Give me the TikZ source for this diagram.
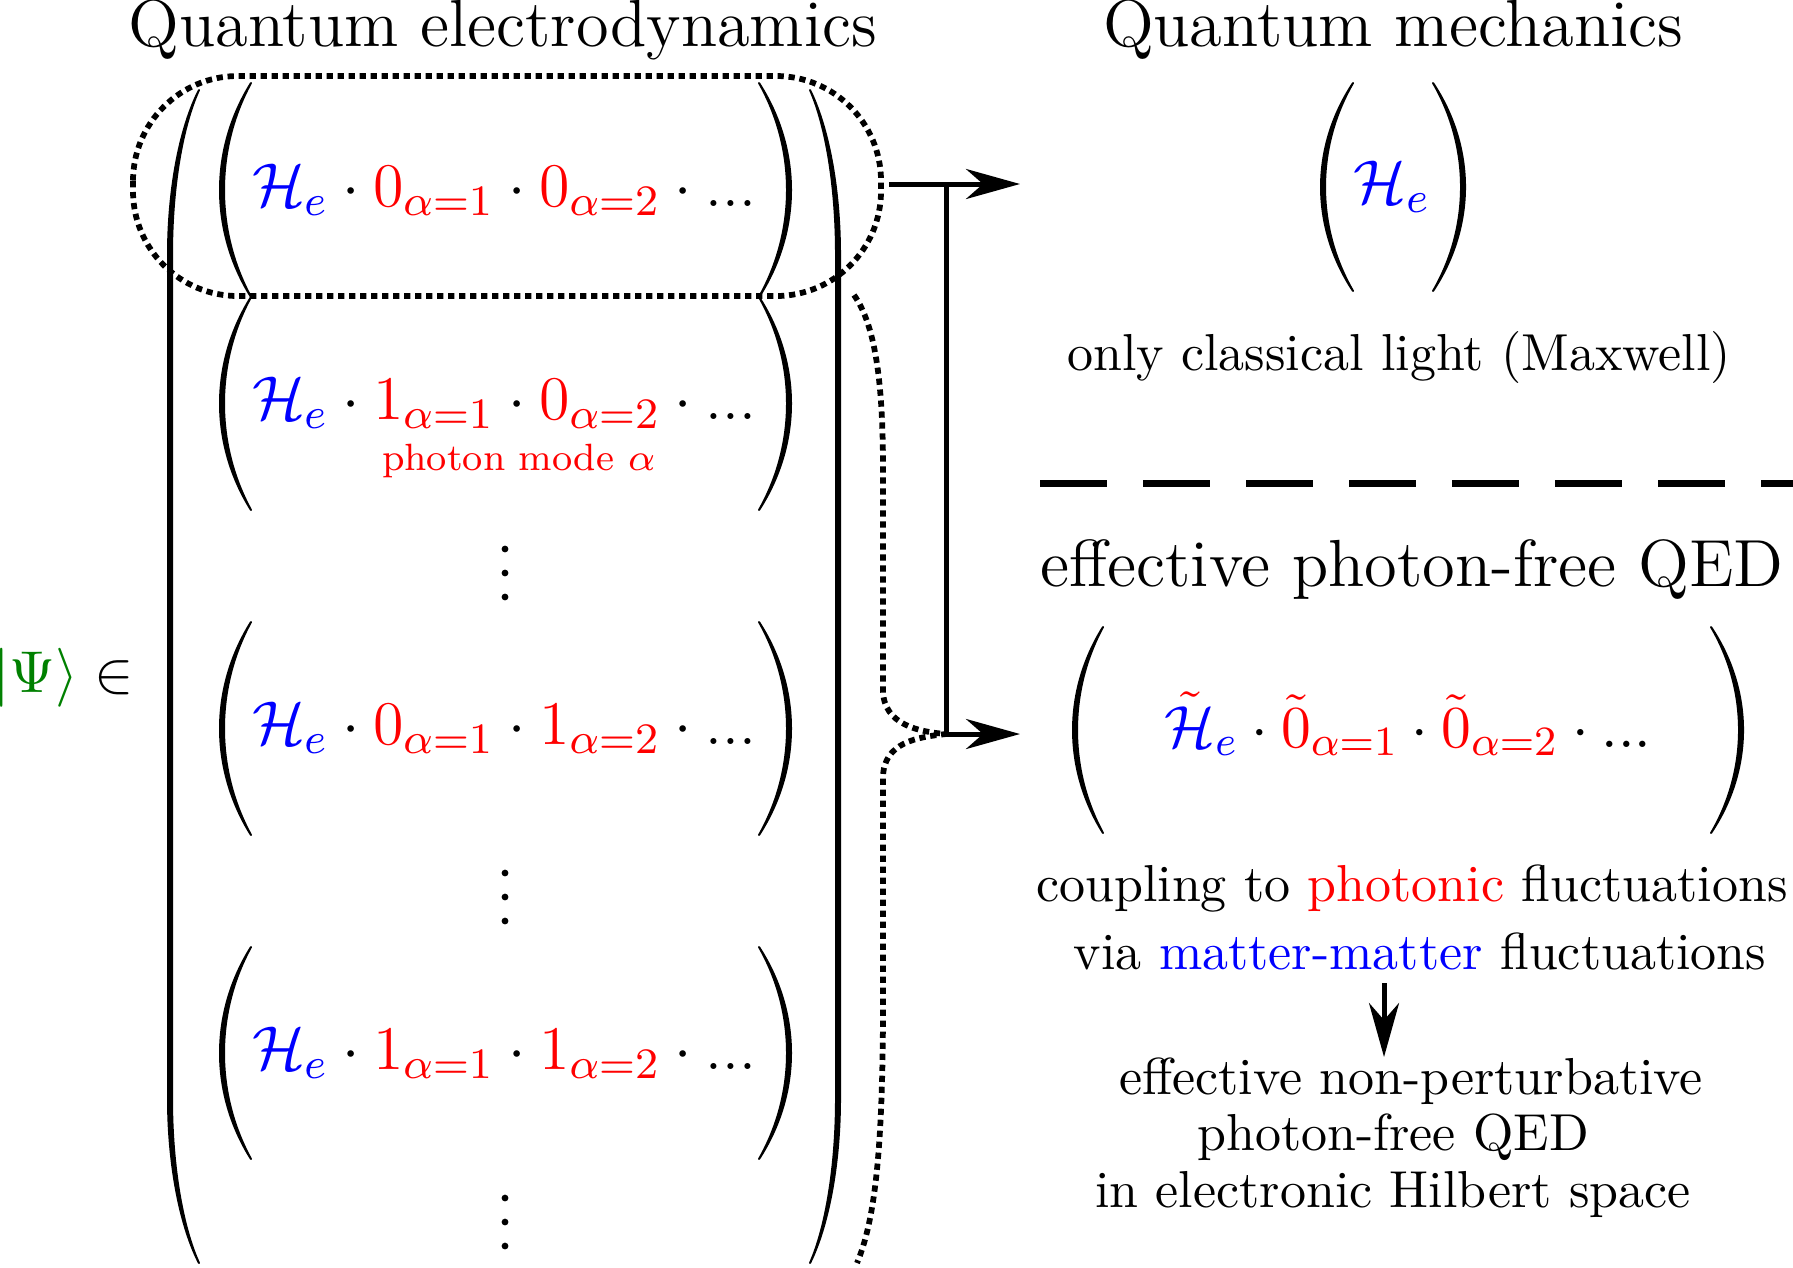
\RequirePackage{fix-cm}
\documentclass[tikz,border=0pt]{standalone}
\usepackage{graphicx}
\usetikzlibrary{arrows.meta}
\definecolor{qgreen}{RGB}{0,128,0}
\definecolor{qblue}{RGB}{0,0,255}
\definecolor{qred}{RGB}{255,0,0}
\newcommand\fTitle{\fontsize{12}{14}\selectfont}
\newcommand\fMath{\fontsize{12.4}{14}\selectfont}
\newcommand\fMathB{\fontsize{11.9}{14}\selectfont}
\newcommand\fBody{\fontsize{10.4}{11.4}\selectfont}
\newcommand\fSmall{\fontsize{7.6}{9}\selectfont}
\newcommand\fPsi{\fontsize{11.8}{14}\selectfont}
\newcommand\He{{\color{qblue}\mathcal{H}_e}}
\tikzset{
  txt/.style={inner sep=0pt, outer sep=0pt},
  parstyle/.style={fill=black, draw=black, line width=0.4pt, line join=round},
  dotsty/.style={line width=1.15pt, dash pattern=on 1.25pt off 0.95pt},
  arr/.style={line width=1pt, -{Stealth[length=10.8pt, width=6pt, inset=3.4pt]}},
  dashline/.style={line width=1.4pt, dash pattern=on 13.4pt off 7.2pt}
}
% small curved parenthesis: #1 end x, #2 top y, #3 bottom y, #4 signed bulge
\newcommand\ParenShape[4]{%
  \pgfmathsetmacro\pA{0.31*((#3)-(#2))}%
  \pgfmathsetmacro\pO{(#1)+1.333*((#4)+2*sign(#4))}%
  \pgfmathsetmacro\pI{(#1)+1.333*((#4)-2*sign(#4))}%
  \filldraw[parstyle] (#1,#2) .. controls ({\pO},{(#2)+\pA}) and ({\pO},{(#3)-\pA}) .. (#1,#3)
     .. controls ({\pI},{(#3)-\pA}) and ({\pI},{(#2)+\pA}) .. (#1,#2) -- cycle;}
% tall extensible parenthesis: #1 end x, #2 vertical x, #3 top y, #4 bottom y
\newcommand\TallParen[4]{%
  \pgfmathsetmacro\tpW{2*sign((#2)-(#1))}%
  \pgfmathsetmacro\tpOa{(#1)+0.586*((#2)-(#1))+0.5*\tpW}%
  \pgfmathsetmacro\tpIa{(#1)+0.586*((#2)-(#1))-0.5*\tpW}%
  \pgfmathsetmacro\tpO{(#2)+\tpW}%
  \pgfmathsetmacro\tpI{(#2)-\tpW}%
  \filldraw[parstyle] (#1,#3) .. controls ({\tpOa},{(#3)+35}) and ({\tpO},{(#3)+95}) .. ({\tpO},{(#3)+165})
    -- ({\tpO},{(#4)-165}) .. controls ({\tpO},{(#4)-95}) and ({\tpOa},{(#4)-35}) .. (#1,#4)
    .. controls ({\tpIa},{(#4)-35}) and ({\tpI},{(#4)-95}) .. ({\tpI},{(#4)-165})
    -- ({\tpI},{(#3)+165}) .. controls ({\tpI},{(#3)+95}) and ({\tpIa},{(#3)+35}) .. (#1,#3) -- cycle;}
\begin{document}
\begin{tikzpicture}[x=0.2pt,y=-0.2pt]
\useasboundingbox (0,0) rectangle (1793,1267);

% titles
\node[txt, anchor=base] (tQED) at (503,46) {\resizebox{149.6pt}{!}{\fTitle Quantum electrodynamics}};
\node[txt, anchor=base] (tQM) at (1393,46) {\resizebox{116pt}{!}{\fTitle Quantum mechanics}};

% state
\node[txt, anchor=base west] (psi) at (-6.7,692) {\fPsi ${\color{qgreen}|\Psi\rangle}\in$};

% outer tall parentheses
\TallParen{199}{170}{90}{1263}
\TallParen{810}{838}{90}{1263}

% rows
\ParenShape{251}{83}{297}{-29}
\ParenShape{759}{83}{297}{30}
\node[txt, anchor=base] (r1) at (504,206) {\fMath $\He\cdot{\color{qred}0_{\alpha=1}}\cdot{\color{qred}0_{\alpha=2}}\cdot...$};

\ParenShape{251}{297}{510}{-29}
\ParenShape{759}{297}{510}{30}
\node[txt, anchor=base] (r2) at (504,419) {\fMath $\He\cdot{\color{qred}1_{\alpha=1}}\cdot{\color{qred}0_{\alpha=2}}\cdot...$};
\node[txt, anchor=base, text=qred] (pm) at (519,470) {\fSmall photon mode $\alpha$};

\foreach \yy in {549,573,597,873,897,921,1198,1222,1246} \fill (505,\yy) circle[radius=3.4];

\ParenShape{251}{622}{835}{-29}
\ParenShape{759}{622}{835}{30}
\node[txt, anchor=base] (r3) at (504,744) {\fMath $\He\cdot{\color{qred}0_{\alpha=1}}\cdot{\color{qred}1_{\alpha=2}}\cdot...$};

\ParenShape{251}{947}{1159}{-29}
\ParenShape{759}{947}{1159}{30}
\node[txt, anchor=base] (r4) at (504,1069) {\fMath $\He\cdot{\color{qred}1_{\alpha=1}}\cdot{\color{qred}1_{\alpha=2}}\cdot...$};

% dotted selection box
\draw[dotsty, rounded corners=21pt] (133,76) rectangle (881,296);

% connectors
\coordinate (a1s) at (889,184);
\coordinate (a1e) at (1020,184);
\coordinate (jn) at (946,184);
\coordinate (jb) at (946,734);
\coordinate (a2e) at (1020,734);
\coordinate (bs) at (854,295);
\coordinate (be) at (857,1263);
\draw[arr] (a1s) -- (a1e);
\draw[arr] (jn) -- (jb) -- (a2e);

% dotted brace
\draw[dotsty] (bs) .. controls (875,325) and (883,380) .. (883,470) -- (883,690)
  .. controls (883,725) and (920,732) .. (jb)
  .. controls (918,737) and (883,742) .. (883,778) -- (883,1000)
  .. controls (883,1150) and (875,1220) .. (be);

% quantum mechanics
\ParenShape{1353}{83}{291}{-30}
\ParenShape{1433}{83}{291}{30}
\node[txt, anchor=base] (qmH) at (1392,203) {\fMath $\He$};
\node[txt, anchor=base] (ocl) at (1399,370) {\fBody only classical light (Maxwell)};

% separator
\coordinate (dl1) at (1040,483);
\coordinate (dl2) at (1800,483);
\draw[dashline] (dl1) -- (dl2);

% effective QED
\node[txt, anchor=base] (tEff) at (1412,586) {\resizebox{148.6pt}{!}{\fTitle effective photon-free QED}};
\ParenShape{1103}{627}{833}{-28}
\ParenShape{1711}{627}{833}{30}
\node[txt, anchor=base] (effrow) at (1408,747) {\fMathB ${\color{qred}\tilde{\textcolor{qblue}{\mathcal{H}}}}_{\color{qblue}e}\cdot{\color{qred}\tilde{0}_{\alpha=1}}\cdot{\color{qred}\tilde{0}_{\alpha=2}}\cdot...$};

\node[txt, anchor=base] (coup) at (1412,901) {\fBody coupling to \textcolor{qred}{photonic} fluctuations};
\node[txt, anchor=base] (via) at (1420,969) {\fBody via \textcolor{qblue}{matter-matter} fluctuations};
\coordinate (da1) at (1384,983);
\coordinate (da2) at (1384,1057);
\draw[arr] (da1) -- (da2);
\node[txt, anchor=base] (enp1) at (1411,1094) {\fBody effective non-perturbative};
\node[txt, anchor=base] (enp2) at (1393,1150) {\fBody photon-free QED};
\node[txt, anchor=base] (enp3) at (1393,1207) {\fBody in electronic Hilbert space};
\end{tikzpicture}
\end{document}
